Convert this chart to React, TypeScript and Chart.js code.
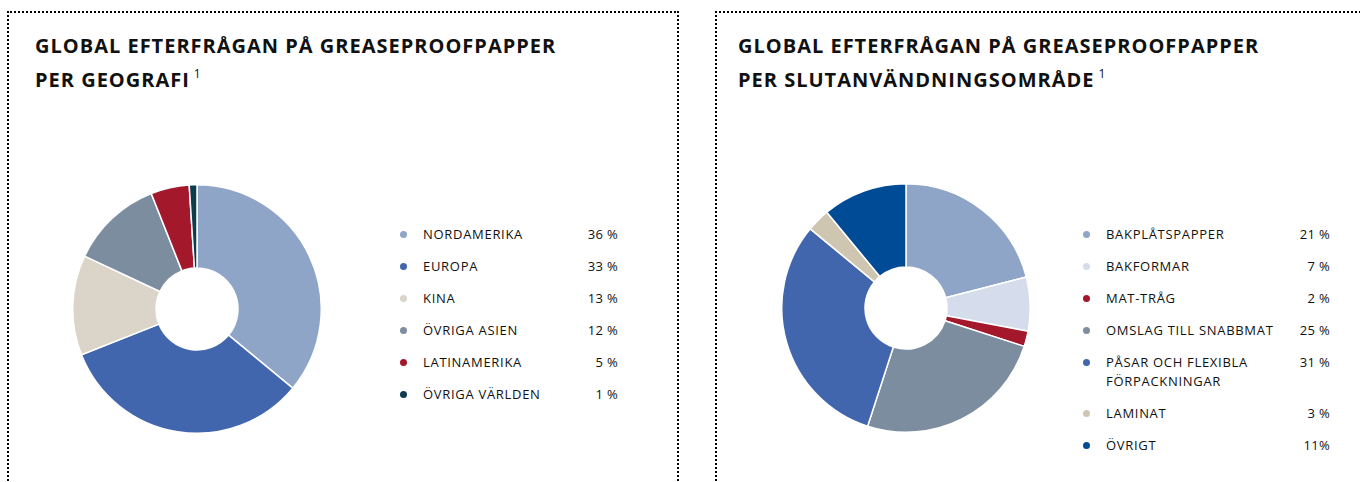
import React, { useEffect, useRef } from "react";
import { Chart, registerables } from "chart.js";

Chart.register(...registerables);

const geoLabels: (string | string[])[] = ["NORDAMERIKA", "EUROPA", "KINA", "ÖVRIGA ASIEN", "LATINAMERIKA", "ÖVRIGA VÄRLDEN"];
const geoValues = [36, 33, 13, 12, 5, 1];
const geoValueLabels = ["36 %", "33 %", "13 %", "12 %", "5 %", "1 %"];
const geoColors = ["#8FA5C8", "#4166AD", "#DAD5C8", "#7C8DA0", "#A3192B", "#0B3D4E"];

const useLabels: (string | string[])[] = [
  "BAKPLÅTSPAPPER",
  "BAKFORMAR",
  "MAT-TRÅG",
  "OMSLAG TILL SNABBMAT",
  ["PÅSAR OCH FLEXIBLA", "FÖRPACKNINGAR"],
  "LAMINAT",
  "ÖVRIGT",
];
const useValues = [21, 7, 2, 25, 31, 3, 11];
const useValueLabels = ["21 %", "7 %", "2 %", "25 %", "31 %", "3 %", "11%"];
const useColors = ["#8FA5C8", "#D5DCEB", "#A3192B", "#7C8DA0", "#4166AD", "#CEC6B1", "#004B96"];

const FONT = "'Open Sans', sans-serif";

function Donut(props: { values: number[]; colors: string[]; labels: (string | string[])[]; cx: number; cy: number; size: number }) {
  const ref = useRef<HTMLCanvasElement | null>(null);
  useEffect(() => {
    if (!ref.current) return;
    const chart = new Chart(ref.current, {
      type: "doughnut",
      data: {
        labels: props.labels.map((l) => (Array.isArray(l) ? l.join(" ") : l)),
        datasets: [
          {
            data: props.values,
            backgroundColor: props.colors,
            borderColor: "#ffffff",
            borderWidth: 1.5,
            hoverBorderWidth: 1.5,
          },
        ],
      },
      options: {
        animation: false,
        responsive: false,
        maintainAspectRatio: false,
        cutout: "33%",
        layout: { padding: 0 },
        plugins: { legend: { display: false }, tooltip: { enabled: false } },
      },
    });
    return () => chart.destroy();
  }, []);
  return (
    <canvas
      ref={ref}
      width={props.size}
      height={props.size}
      style={{ position: "absolute", left: props.cx - props.size / 2, top: props.cy - props.size / 2, width: props.size, height: props.size }}
    />
  );
}

function Legend(props: { labels: (string | string[])[]; valueLabels: string[]; colors: string[]; dotX: number; textX: number; rightX: number; top: number }) {
  const rows: React.ReactNode[] = [];
  let y = props.top;
  props.labels.forEach((l, i) => {
    const lines = Array.isArray(l) ? l : [l];
    rows.push(
      <div key={i}>
        <div
          style={{
            position: "absolute",
            left: props.dotX - 3.5,
            top: y - 3.5,
            width: 7,
            height: 7,
            borderRadius: "50%",
            background: props.colors[i],
          }}
        />
        {lines.map((ln, j) => (
          <div
            key={j}
            style={{
              position: "absolute",
              left: props.textX,
              top: y + j * 19 - 10,
              height: 20,
              lineHeight: "20px",
              fontFamily: FONT,
              fontSize: 13,
              color: "#111",
              whiteSpace: "nowrap",
              letterSpacing: 0.7,
            }}
          >
            {ln}
          </div>
        ))}
        <div
          style={{
            position: "absolute",
            left: props.rightX - 80,
            width: 80,
            textAlign: "right",
            top: y - 10,
            height: 20,
            lineHeight: "20px",
            fontFamily: FONT,
            fontSize: 13,
            color: "#111",
            whiteSpace: "nowrap",
            letterSpacing: 0.3,
          }}
        >
          {props.valueLabels[i]}
        </div>
      </div>
    );
    y += 32 + (lines.length - 1) * 19;
  });
  return <>{rows}</>;
}

function Title(props: { x: number; line1: string; line2: string }) {
  const st: React.CSSProperties = {
    position: "absolute",
    left: props.x,
    fontFamily: FONT,
    fontWeight: 700,
    fontSize: 20,
    color: "#111",
    whiteSpace: "nowrap",
    height: 30,
    lineHeight: "30px",
    letterSpacing: 1.0,
  };
  return (
    <>
      <div style={{ ...st, top: 31 }}>{props.line1}</div>
      <div style={{ ...st, top: 65 }}>
        {props.line2}
        <span style={{ fontWeight: 400, fontSize: 12, letterSpacing: 0, verticalAlign: "top", position: "relative", top: -6, marginLeft: 4 }}>1</span>
      </div>
    </>
  );
}

export default function App() {
  return (
    <div style={{ position: "absolute", left: 0, top: 0, width: 1360, height: 482, overflow: "hidden", background: "#fff" }}>
      <div style={{ position: "absolute", left: 7, top: 11, width: 668, height: 520, borderTop: "2px dotted #000", borderLeft: "2px dotted #000", borderRight: "2px dotted #000" }} />
      <div style={{ position: "absolute", left: 715, top: 11, width: 700, height: 520, borderTop: "2px dotted #000", borderLeft: "2px dotted #000" }} />
      <Title x={35} line1="GLOBAL EFTERFRÅGAN PÅ GREASEPROOFPAPPER" line2="PER GEOGRAFI" />
      <Title x={738} line1="GLOBAL EFTERFRÅGAN PÅ GREASEPROOFPAPPER" line2="PER SLUTANVÄNDNINGSOMRÅDE" />
      <Donut values={geoValues} colors={geoColors} labels={geoLabels} cx={197} cy={309} size={250} />
      <Donut values={useValues} colors={useColors} labels={useLabels} cx={906} cy={308} size={250} />
      <Legend labels={geoLabels} valueLabels={geoValueLabels} colors={geoColors} dotX={403} textX={423} rightX={618} top={234} />
      <Legend labels={useLabels} valueLabels={useValueLabels} colors={useColors} dotX={1086} textX={1106} rightX={1330} top={234} />
    </div>
  );
}
